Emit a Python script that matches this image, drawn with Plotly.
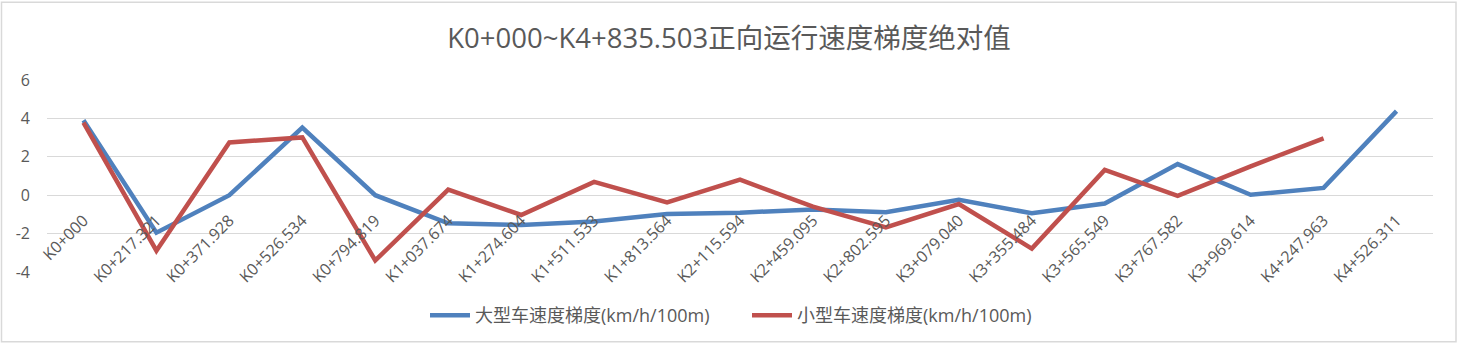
import plotly.graph_objects as go

# Chainage stations along the route
stations = [
    "K0+000", "K0+217.321", "K0+371.928", "K0+526.534", "K0+794.819",
    "K1+037.674", "K1+274.604", "K1+511.533", "K1+813.564", "K2+115.594",
    "K2+459.095", "K2+802.595", "K3+079.040", "K3+355.484", "K3+565.549",
    "K3+767.582", "K3+969.614", "K4+247.963", "K4+526.311",
]

# Speed gradient, large vehicles (km/h/100m)
large_vehicle = [
    3.9, -1.95, 0.0, 3.52, 0.0, -1.46, -1.55, -1.37, -0.98, -0.91,
    -0.74, -0.89, -0.24, -0.94, -0.43, 1.62, 0.02, 0.38, 4.38,
]

# Speed gradient, small vehicles (km/h/100m); no value at the last station
small_vehicle = [
    3.78, -2.89, 2.75, 3.01, -3.4, 0.29, -1.03, 0.69, -0.38, 0.81,
    -0.6, -1.68, -0.46, -2.78, 1.32, -0.03, 1.5, 2.96, None,
]

y_ticks = [-4, -2, 0, 2, 4, 6]
y_tick_text = ["-4", "-2", "0", "2", "4", "6"]

title_text = "K0+000~K4+835.503正向运行速度梯度绝对值"
name_large = "大型车速度梯度(km/h/100m)"
name_small = "小型车速度梯度(km/h/100m)"

FONT = "Open Sans, Noto Sans CJK SC, sans-serif"
TEXT = "#595959"
GRID = "#d9d9d9"

W, H = 1458, 346
ML, MR, MT, MB = 47, 25, 80, 72
plot_w = W - ML - MR
plot_h = H - MT - MB

fig = go.Figure()
fig.add_trace(go.Scatter(
    x=stations, y=large_vehicle, mode="lines", name=name_large,
    line=dict(color="#4F81BD", width=4.5),
))
fig.add_trace(go.Scatter(
    x=stations, y=small_vehicle, mode="lines", name=name_small,
    line=dict(color="#C0504D", width=4.5),
))

# Horizontal axis crosses the value axis at zero
zero_pos = (0 - (-4)) / (6 - (-4))

fig.update_layout(
    width=W, height=H,
    margin=dict(l=ML, r=MR, t=MT, b=MB),
    paper_bgcolor="white", plot_bgcolor="white",
    font=dict(family=FONT, color=TEXT, size=16),
    title=dict(text=title_text, x=0.5, xanchor="center", y=0.89, yanchor="middle",
               font=dict(size=27.5, color=TEXT, family=FONT)),
    showlegend=True,
    legend=dict(orientation="h", x=0.5 + 7 / plot_w, xanchor="center", y=-0.13, yanchor="top",
                font=dict(size=18, color=TEXT), itemwidth=40,
                entrywidth=267, entrywidthmode="pixels",
                traceorder="normal"),
    xaxis=dict(
        type="category", anchor="free", position=zero_pos,
        showgrid=False, showline=False, zeroline=False,
        tickangle=-45, ticks="", tickfont=dict(size=16, color=TEXT),
        ticklabelstandoff=12,
        range=[-0.5, len(stations) - 0.5],
    ),
    yaxis=dict(
        range=[-4, 6], tickvals=y_ticks, ticktext=y_tick_text,
        showgrid=True, gridcolor=GRID, gridwidth=1.3,
        zeroline=False, showline=False, ticks="",
        tickfont=dict(size=16, color=TEXT), ticklabelstandoff=16,
    ),
)

# Chart frame
fig.add_shape(
    type="rect", xref="paper", yref="paper",
    x0=(1.5 - ML) / plot_w, x1=(W - 2 - ML) / plot_w,
    y0=-(MB - 1.5) / plot_h, y1=1 + (MT - 1.5) / plot_h,
    line=dict(color=GRID, width=1.5), fillcolor="rgba(0,0,0,0)", layer="below",
)

fig.write_html("out.html")
